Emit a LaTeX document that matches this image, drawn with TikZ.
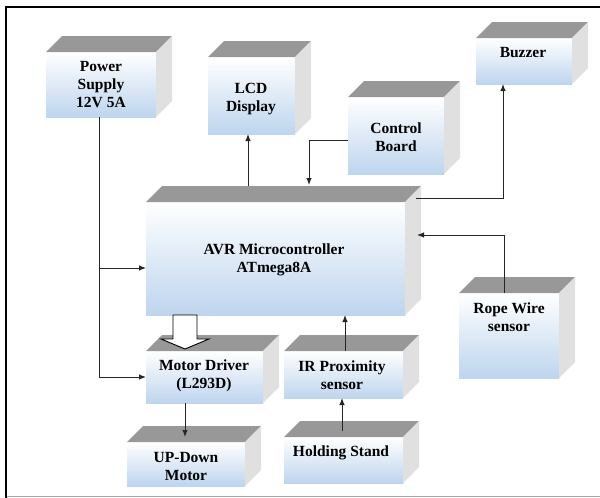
\documentclass[tikz,border=0pt]{standalone}
\usepackage{fontspec}
\setmainfont{Liberation Serif}
\usetikzlibrary{arrows.meta}
\definecolor{topgrey}{RGB}{152,152,152}
\definecolor{sidegrey}{RGB}{224,224,224}
\definecolor{faceblue}{RGB}{190,213,238}
\tikzset{
  frontface/.style={inner sep=0pt, outer sep=0pt, draw=none, top color=white, bottom color=faceblue},
  txt/.style={font=\bfseries\fontsize{15.5}{18}\selectfont, align=center, inner sep=0pt},
  conn/.style={line width=1pt, draw=black!85, -{Latex[length=7pt,width=5.5pt]}},
  hollow/.style={line width=0.9pt, draw=black, fill=white, line join=miter}
}
\newcommand\blockcube[5]{%
  \node[frontface, minimum width={#4pt-#2pt}, minimum height={#5pt-#3pt}, anchor=north west] (#1) at (#2,#3) {};
  \fill[topgrey] (#1.north west) -- (#1.north east) -- ++(16,-16) -- ([shift={(16,-16)}]#1.north west) -- cycle;
  \fill[sidegrey] (#1.north east) -- ++(16,-16) -- ([shift={(16,-16)}]#1.south east) -- (#1.south east) -- cycle;
}
\begin{document}
\begin{tikzpicture}[x=1pt,y=-1pt]
\useasboundingbox (0,0) rectangle (600,498);
\fill[white] (0,0) rectangle (600,498);
% frame
\draw[line width=2.2pt] (6,498) -- (6,7) -- (600,7);
\draw[black!35, line width=1.2pt] (7,496.5) -- (600,496.5);
% blocks
\blockcube{ps}{46}{52}{156}{117}
\blockcube{lcd}{208}{57}{295}{134}
\blockcube{bz}{476}{38}{572}{84}
\blockcube{cb}{348}{97}{444}{174}
\blockcube{avr}{146}{202}{405}{315}
\blockcube{rw}{459}{293}{559}{378}
\blockcube{md}{146}{351}{263}{403}
\blockcube{ir}{284}{351}{403}{398}
\blockcube{ud}{127}{442}{245}{486}
\blockcube{hs}{284}{437}{403}{483}
% texts
\node[txt] (psT) at (101,85) {Power\\Supply\\12V 5A};
\node[txt] (lcdT) at (251,99) {LCD\\Display};
\node[txt] (bzT) at (523,53) {Buzzer};
\node[txt] (cbT) at (396,137) {Control\\Board};
\node[txt] (avrT) at (274,260) {AVR Microcontroller\\ATmega8A};
\node[txt] (rwT) at (509,317) {Rope Wire\\sensor};
\node[txt] (mdT) at (204,376) {Motor Driver\\(L293D)};
\node[txt] (irT) at (342,375) {IR Proximity\\sensor};
\node[txt] (udT) at (186,466) {UP-Down\\Motor};
\node[txt] (hsT) at (341,453) {Holding Stand};
% connectors
\coordinate (psj) at (99,268);
\draw[conn] (ps.south -| psj) |- (md.west);
\draw[conn] (psj) -- (avr.west |- psj);
\coordinate (lcdj) at (248,186);
\draw[conn] (lcdj) -- (lcd.south -| lcdj);
\coordinate (cbj) at (348,140);
\coordinate (cbe) at (309,185);
\draw[conn] (cb.west |- cbj) -| (cbe);
\coordinate (bzj) at (416,198);
\coordinate (bzk) at (503,0);
\draw[conn] (bzj) -| (bz.south -| bzk);
\coordinate (rwj) at (504,0);
\coordinate (rwe) at (417,235);
\draw[conn] (rw.north -| rwj) |- (rwe);
\coordinate (irj) at (345,0);
\draw[conn] (ir.north -| irj) -- (avr.south -| irj);
\coordinate (hsj) at (342,431);
\draw[conn] (hsj) -- (ir.south -| hsj);
\coordinate (mdj) at (185,437);
\draw[conn] (md.south -| mdj) -- (mdj);
% hollow arrow AVR -> Motor Driver
\coordinate (hl) at (173,0);
\coordinate (hr) at (197,0);
\draw[hollow] (avr.south -| hl) -- (173,339) -- (161,339) -- (185,349) -- (209,339) -- (197,339) -- (avr.south -| hr) -- cycle;
\end{tikzpicture}
\end{document}
